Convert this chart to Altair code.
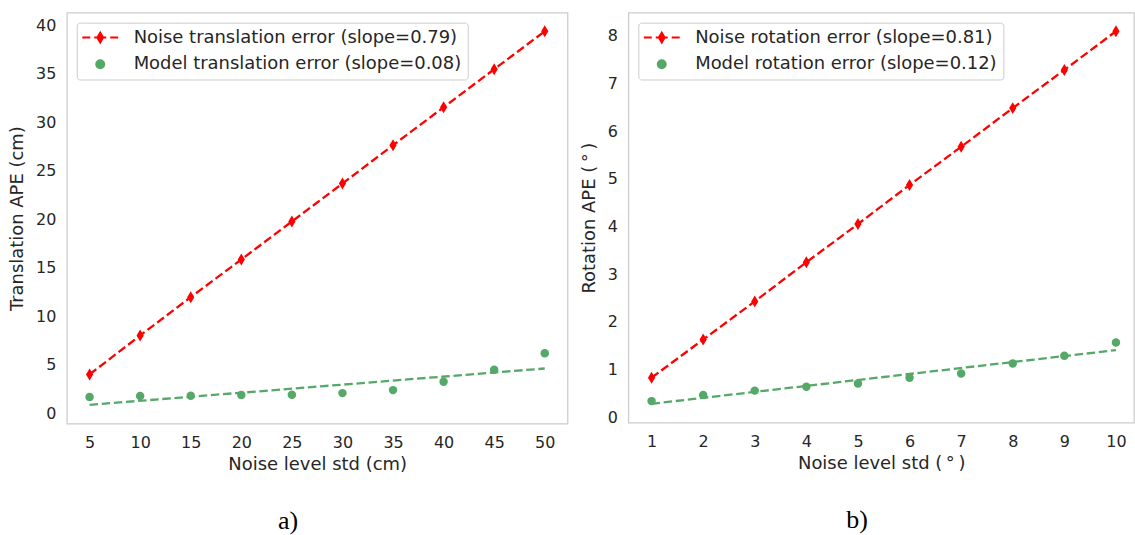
import altair as alt
import pandas as pd

# ---------------- data ----------------
noise_cm = [5, 10, 15, 20, 25, 30, 35, 40, 45, 50]
noise_trans_err = [4.02, 8.03, 11.98, 15.86, 19.78, 23.69, 27.64, 31.55, 35.47, 39.38]
model_trans_err = [1.68, 1.79, 1.82, 1.89, 1.92, 2.09, 2.40, 3.26, 4.50, 6.21]
trans_labels = ["Noise translation error (slope=0.79)", "Model translation error (slope=0.08)"]

noise_deg = [1, 2, 3, 4, 5, 6, 7, 8, 9, 10]
noise_rot_err = [0.83, 1.63, 2.43, 3.25, 4.05, 4.87, 5.67, 6.48, 7.28, 8.09]
model_rot_err = [0.34, 0.47, 0.56, 0.64, 0.71, 0.83, 0.92, 1.13, 1.29, 1.57]
rot_labels = ["Noise rotation error (slope=0.81)", "Model rotation error (slope=0.12)"]

x_ticks_a = [5, 10, 15, 20, 25, 30, 35, 40, 45, 50]
y_ticks_a = [0, 5, 10, 15, 20, 25, 30, 35, 40]
x_ticks_b = [1, 2, 3, 4, 5, 6, 7, 8, 9, 10]
y_ticks_b = [0, 1, 2, 3, 4, 5, 6, 7, 8]

# ---------------- style ----------------
RED = "#ff0000"
GREEN = "#55a868"
TEXT = "#262626"
FRAME = "#cccccc"
FONT = "DejaVu Sans"
DASH = [8.5, 3.7]

DIAMOND = "M0,-1L0.6,0L0,1L-0.6,0Z"
# legend symbols: unit = 8 px (symbolSize 256)
LEG_DIAMOND = "M-2.25,0H-1.25M-0.75,0H0.75M1.25,0H2.25M0,-0.62L0.36,0L0,0.62L-0.36,0Z"
LEG_CIRCLE = "M-0.5,0A0.5,0.5,0,1,0,0.5,0A0.5,0.5,0,1,0,-0.5,0Z"


def panel(xs, noise, model, labels, xdom, ydom, xticks, yticks,
          xtitle, ytitle, width, height, tag):
    df = pd.DataFrame({
        "x": list(xs) + list(xs),
        "y": list(noise) + list(model),
        "series": [labels[0]] * len(xs) + [labels[1]] * len(xs),
    })
    base = alt.Chart(df)
    xenc = alt.X("x:Q", scale=alt.Scale(domain=xdom, nice=False, zero=False),
                 axis=alt.Axis(values=xticks, title=xtitle, format="d",
                               labelPadding=11, titlePadding=5))
    yenc = alt.Y("y:Q", scale=alt.Scale(domain=ydom, nice=False, zero=False),
                 axis=alt.Axis(values=yticks, title=ytitle, format="d",
                               labelPadding=11, titlePadding=9))
    is_noise = alt.datum.series == labels[0]
    is_model = alt.datum.series == labels[1]

    noise_line = base.transform_filter(is_noise).mark_line(
        color=RED, strokeDash=DASH, strokeWidth=2.3).encode(x=xenc, y=yenc)
    fit_line = base.transform_filter(is_model).transform_regression("x", "y").mark_line(
        color=GREEN, strokeDash=DASH, strokeWidth=2.3).encode(x=xenc, y=yenc)
    diamonds = base.transform_filter(is_noise).mark_point(
        shape=DIAMOND, filled=True, size=144, color=RED, opacity=1).encode(x=xenc, y=yenc)
    circles = base.transform_filter(is_model).mark_circle(
        size=72, color=GREEN, opacity=1).encode(x=xenc, y=yenc)

    leg = alt.Legend(title=None, orient="top-left", offset=10, padding=6,
                     symbolOffset=8.5, labelOffset=24.5, rowPadding=8.7,
                     symbolSize=256, symbolStrokeWidth=2, symbolOpacity=1,
                     labelFont=FONT, labelFontSize=18, labelColor=TEXT,
                     labelLimit=800, strokeColor=FRAME, fillColor="white",
                     cornerRadius=3)
    legend_layer = base.transform_filter("false").mark_point(
        filled=True, strokeWidth=2, opacity=1).encode(
        fill=alt.Fill("series:N", scale=alt.Scale(domain=labels, range=[RED, GREEN]), legend=leg),
        stroke=alt.Stroke("series:N", scale=alt.Scale(domain=labels, range=[RED, GREEN]), legend=leg),
        shape=alt.Shape("series:N", scale=alt.Scale(domain=labels, range=[LEG_DIAMOND, LEG_CIRCLE]), legend=leg),
    )

    return alt.layer(noise_line, fit_line, diamonds, circles, legend_layer).properties(
        width=width, height=height,
        title=alt.TitleParams(tag, orient="bottom", font="Liberation Serif", fontSize=26,
                              fontWeight="normal", color="black", offset=35,
                              anchor="middle", frame="bounds"),
    )


left = panel(noise_cm, noise_trans_err, model_trans_err, trans_labels,
             [2.75, 52.25], [-1.05, 41.3], x_ticks_a, y_ticks_a,
             "Noise level std (cm)", "Translation APE (cm)", 502, 412, "a)")
right = panel(noise_deg, noise_rot_err, model_rot_err, rot_labels,
              [0.55, 10.35], [-0.11, 8.48], x_ticks_b, y_ticks_b,
              "Noise level std (\u2009\u00b0\u2009)", "Rotation APE (\u2009\u00b0\u2009)", 507, 411, "b)")

chart = alt.hconcat(left, right, spacing=11).resolve_scale(
    fill="independent", stroke="independent", shape="independent",
    color="independent", x="independent", y="independent",
).resolve_legend(fill="independent", stroke="independent", shape="independent").properties(
    padding={"left": 8, "top": 11, "right": 0, "bottom": 0},
    background="white",
).configure_axis(
    labelFont=FONT, labelFontSize=16, labelColor=TEXT,
    titleFont=FONT, titleFontSize=18, titleColor=TEXT, titleFontWeight="normal",
    grid=False, ticks=False, domain=False,
).configure_view(stroke=FRAME, strokeWidth=1.25)

chart.save("out.html", embed_options={"renderer": "svg", "actions": False})
